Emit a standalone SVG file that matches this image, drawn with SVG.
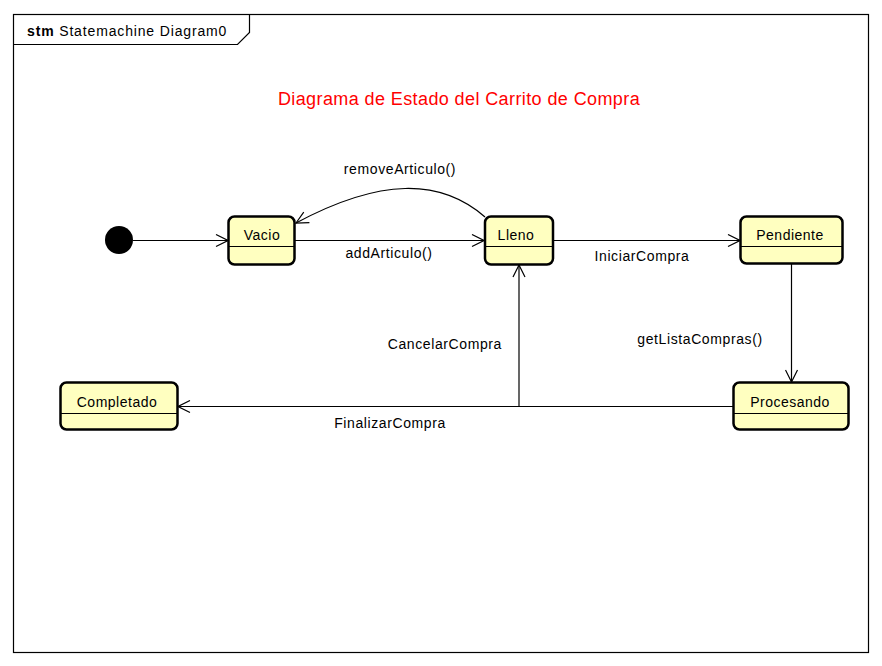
<svg xmlns="http://www.w3.org/2000/svg" width="882" height="666" viewBox="0 0 882 666">
<defs>
<style>
text{font-family:"Liberation Sans",Arial,sans-serif;fill:#000}
.lbl{font-size:14px;letter-spacing:0.6px}
.st rect{fill:#ffffc0;stroke:#000;stroke-width:2.5}
.st line{stroke:#000;stroke-width:1.2}
.st text{font-size:14px;text-anchor:middle;letter-spacing:0.5px}
.c{fill:none;stroke:#000;stroke-width:1.2}
</style>
<marker id="open" viewBox="0 0 14 14" refX="13" refY="7" markerWidth="14" markerHeight="14" markerUnits="userSpaceOnUse" orient="auto">
<path d="M1,1 L13,7 L1,13" fill="none" stroke="#000" stroke-width="1.2"/>
</marker>
</defs>
<rect width="882" height="666" fill="#fff"/>
<g id="frame">
<rect x="13.5" y="14.5" width="855" height="638" fill="none" stroke="#000" stroke-width="1.2"/>
<path d="M13.5,44.5 H237.5 L249.5,32.5 V14.5" fill="none" stroke="#000" stroke-width="1.2"/>
<text x="27" y="36" style="font-size:14px;letter-spacing:0.85px"><tspan font-weight="bold">stm</tspan> Statemachine Diagram0</text>
</g>
<text id="title" x="459" y="105" text-anchor="middle" style="font-size:18px;fill:#ff0000;letter-spacing:0.4px">Diagrama de Estado del Carrito de Compra</text>
<g id="initial"><circle cx="119" cy="240" r="14" fill="#000"/></g>
<g id="Vacio" class="st"><rect x="228.5" y="216.5" width="66" height="48" rx="6"/><line x1="229" y1="246.5" x2="294" y2="246.5"/><text x="262" y="240">Vacio</text></g>
<g id="Lleno" class="st"><rect x="485" y="216.5" width="68" height="48" rx="6"/><line x1="485" y1="246.5" x2="553" y2="246.5"/><text x="516" y="240">Lleno</text></g>
<g id="Pendiente" class="st"><rect x="740.5" y="216.5" width="102" height="47" rx="6"/><line x1="741" y1="246.5" x2="842" y2="246.5"/><text x="790" y="240">Pendiente</text></g>
<g id="Procesando" class="st"><rect x="733.5" y="382.5" width="115" height="47" rx="6"/><line x1="734" y1="413.5" x2="848" y2="413.5"/><text x="790" y="407">Procesando</text></g>
<g id="Completado" class="st"><rect x="60.5" y="382.5" width="117" height="47" rx="6"/><line x1="61" y1="413.5" x2="177" y2="413.5"/><text x="117" y="407">Completado</text></g>
<g id="connectors">
<line class="c" x1="133" y1="240.5" x2="228" y2="240.5" marker-end="url(#open)"/>
<line class="c" x1="295" y1="240.5" x2="484" y2="240.5" marker-end="url(#open)"/>
<path class="c" d="M485,217 C440,178 380,178 296,223" marker-end="url(#open)"/>
<line class="c" x1="553" y1="240.5" x2="740" y2="240.5" marker-end="url(#open)"/>
<line class="c" x1="791.5" y1="264" x2="791.5" y2="382" marker-end="url(#open)"/>
<line class="c" x1="733" y1="406.5" x2="178" y2="406.5" marker-end="url(#open)"/>
<path class="c" d="M519,406.5 V265" marker-end="url(#open)"/>
</g>
<g id="labels">
<text class="lbl" x="400" y="174" text-anchor="middle">removeArticulo()</text>
<text class="lbl" x="389" y="258" text-anchor="middle">addArticulo()</text>
<text class="lbl" x="642" y="261" text-anchor="middle">IniciarCompra</text>
<text class="lbl" x="700" y="344" text-anchor="middle">getListaCompras()</text>
<text class="lbl" x="502" y="349" text-anchor="end">CancelarCompra</text>
<text class="lbl" x="390" y="428" text-anchor="middle">FinalizarCompra</text>
</g>
</svg>
